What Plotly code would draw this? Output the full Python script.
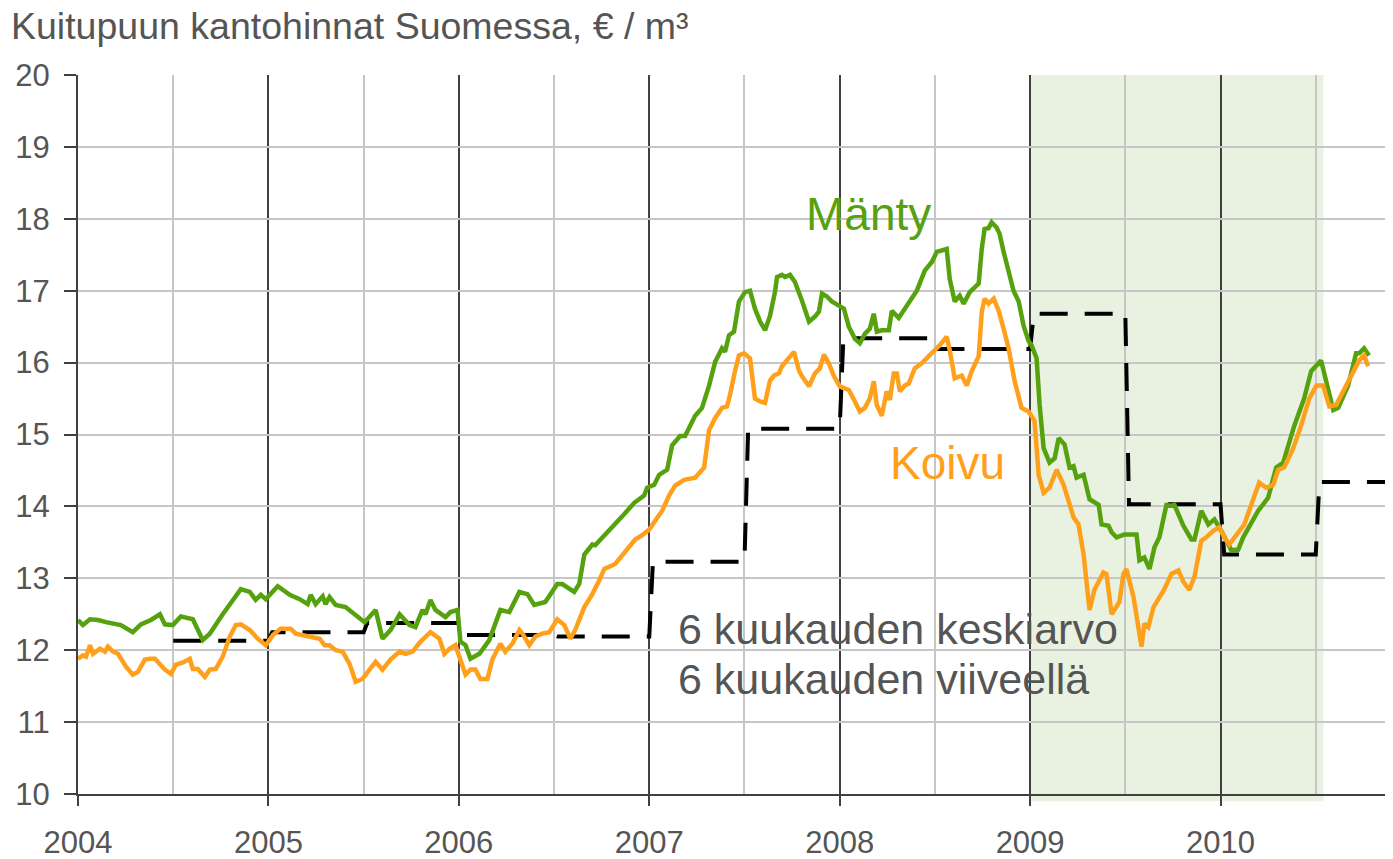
import plotly.graph_objects as go

# ---------------- data ----------------
years = [2004, 2005, 2006, 2007, 2008, 2009, 2010]
year_labels = [str(y) for y in years]

manty_x = [2004.000, 2004.026, 2004.063, 2004.105, 2004.147, 2004.225, 2004.288, 2004.330, 2004.383, 2004.430,
           2004.456, 2004.498, 2004.540, 2004.603, 2004.655, 2004.692, 2004.760, 2004.813, 2004.855, 2004.902,
           2004.933, 2004.960, 2004.986, 2005.049, 2005.112, 2005.164, 2005.206, 2005.222, 2005.248, 2005.285,
           2005.300, 2005.321, 2005.353, 2005.405, 2005.458, 2005.505, 2005.563, 2005.599, 2005.641, 2005.689,
           2005.741, 2005.772, 2005.809, 2005.825, 2005.851, 2005.877, 2005.930, 2005.956, 2005.993, 2006.008,
           2006.035, 2006.061, 2006.108, 2006.160, 2006.218, 2006.265, 2006.318, 2006.360, 2006.396, 2006.454,
           2006.517, 2006.543, 2006.606, 2006.632, 2006.659, 2006.701, 2006.716, 2006.769, 2006.816, 2006.868,
           2006.921, 2006.973, 2006.989, 2007.026, 2007.052, 2007.094, 2007.120, 2007.162, 2007.188, 2007.241,
           2007.277, 2007.314, 2007.346, 2007.382, 2007.398, 2007.419, 2007.445, 2007.471, 2007.503, 2007.529,
           2007.555, 2007.582, 2007.608, 2007.634, 2007.660, 2007.671, 2007.697, 2007.713, 2007.739, 2007.765,
           2007.802, 2007.839, 2007.870, 2007.891, 2007.907, 2007.933, 2007.959, 2007.996, 2008.022, 2008.048,
           2008.080, 2008.106, 2008.132, 2008.158, 2008.179, 2008.195, 2008.221, 2008.258, 2008.274, 2008.310,
           2008.352, 2008.389, 2008.405, 2008.447, 2008.484, 2008.510, 2008.525, 2008.562, 2008.578, 2008.604,
           2008.630, 2008.651, 2008.683, 2008.730, 2008.746, 2008.761, 2008.782, 2008.798, 2008.824, 2008.840,
           2008.861, 2008.887, 2008.913, 2008.940, 2008.966, 2008.992, 2009.008, 2009.034, 2009.050, 2009.071,
           2009.102, 2009.129, 2009.150, 2009.181, 2009.207, 2009.228, 2009.244, 2009.281, 2009.312, 2009.360,
           2009.375, 2009.412, 2009.428, 2009.454, 2009.495, 2009.559, 2009.574, 2009.600, 2009.627, 2009.653,
           2009.679, 2009.716, 2009.742, 2009.758, 2009.805, 2009.847, 2009.863, 2009.899, 2009.936, 2009.968,
           2010.004, 2010.057, 2010.093, 2010.119, 2010.151, 2010.198, 2010.250, 2010.292, 2010.329, 2010.387,
           2010.439, 2010.476, 2010.528, 2010.554, 2010.592, 2010.618, 2010.670, 2010.712, 2010.728, 2010.754,
           2010.780]
manty_y = [12.42, 12.35, 12.43, 12.42, 12.39, 12.35, 12.25, 12.36, 12.42, 12.50,
           12.36, 12.35, 12.47, 12.43, 12.14, 12.23, 12.50, 12.70, 12.85, 12.81,
           12.70, 12.77, 12.71, 12.89, 12.77, 12.71, 12.64, 12.77, 12.64, 12.75,
           12.64, 12.74, 12.63, 12.60, 12.49, 12.39, 12.56, 12.16, 12.28, 12.50,
           12.35, 12.32, 12.56, 12.50, 12.70, 12.56, 12.46, 12.53, 12.56, 12.12,
           12.07, 11.88, 11.95, 12.14, 12.56, 12.53, 12.81, 12.78, 12.63, 12.67,
           12.92, 12.92, 12.81, 12.92, 13.33, 13.47, 13.46, 13.61, 13.73, 13.89,
           14.05, 14.15, 14.26, 14.30, 14.44, 14.51, 14.85, 14.98, 14.98, 15.26,
           15.37, 15.68, 16.01, 16.20, 16.15, 16.38, 16.43, 16.85, 16.98, 17.00,
           16.75, 16.57, 16.45, 16.65, 16.98, 17.19, 17.22, 17.19, 17.22, 17.12,
           16.86, 16.57, 16.64, 16.71, 16.96, 16.92, 16.85, 16.79, 16.75, 16.50,
           16.33, 16.27, 16.40, 16.47, 16.68, 16.43, 16.45, 16.45, 16.72, 16.62,
           16.78, 16.93, 17.00, 17.28, 17.40, 17.54, 17.55, 17.58, 17.16, 16.85,
           16.93, 16.82, 16.98, 17.10, 17.58, 17.86, 17.87, 17.95, 17.88, 17.79,
           17.54, 17.26, 17.00, 16.85, 16.51, 16.30, 16.24, 16.06, 15.41, 14.81,
           14.61, 14.67, 14.95, 14.86, 14.54, 14.56, 14.40, 14.44, 14.10, 14.02,
           13.75, 13.73, 13.64, 13.57, 13.61, 13.61, 13.25, 13.29, 13.13, 13.43,
           13.57, 14.02, 14.01, 14.02, 13.73, 13.54, 13.54, 13.94, 13.75, 13.82,
           13.66, 13.39, 13.40, 13.57, 13.71, 13.94, 14.12, 14.54, 14.61, 15.12,
           15.50, 15.88, 16.03, 15.74, 15.34, 15.37, 15.68, 16.13, 16.13, 16.20,
           16.10]

koivu_x = [2004.000, 2004.026, 2004.042, 2004.063, 2004.079, 2004.115, 2004.142, 2004.157, 2004.184, 2004.210,
           2004.252, 2004.288, 2004.315, 2004.351, 2004.378, 2004.404, 2004.456, 2004.488, 2004.514, 2004.551,
           2004.587, 2004.603, 2004.629, 2004.666, 2004.692, 2004.724, 2004.760, 2004.797, 2004.829, 2004.855,
           2004.902, 2004.944, 2004.986, 2005.023, 2005.064, 2005.117, 2005.143, 2005.180, 2005.222, 2005.269,
           2005.295, 2005.321, 2005.353, 2005.390, 2005.426, 2005.458, 2005.494, 2005.531, 2005.563, 2005.599,
           2005.641, 2005.689, 2005.720, 2005.757, 2005.799, 2005.851, 2005.898, 2005.924, 2005.951, 2005.982,
           2006.008, 2006.035, 2006.061, 2006.087, 2006.113, 2006.150, 2006.176, 2006.218, 2006.244, 2006.281,
           2006.318, 2006.334, 2006.370, 2006.402, 2006.438, 2006.475, 2006.517, 2006.554, 2006.585, 2006.611,
           2006.659, 2006.701, 2006.737, 2006.764, 2006.821, 2006.858, 2006.895, 2006.926, 2006.963, 2007.000,
           2007.031, 2007.068, 2007.104, 2007.136, 2007.183, 2007.241, 2007.288, 2007.314, 2007.346, 2007.382,
           2007.408, 2007.424, 2007.450, 2007.471, 2007.498, 2007.529, 2007.555, 2007.582, 2007.608, 2007.634,
           2007.655, 2007.681, 2007.697, 2007.734, 2007.760, 2007.786, 2007.802, 2007.839, 2007.870, 2007.896,
           2007.917, 2007.943, 2007.970, 2008.001, 2008.048, 2008.080, 2008.106, 2008.132, 2008.158, 2008.179,
           2008.195, 2008.221, 2008.247, 2008.263, 2008.284, 2008.300, 2008.316, 2008.342, 2008.363, 2008.394,
           2008.431, 2008.468, 2008.499, 2008.525, 2008.562, 2008.578, 2008.604, 2008.641, 2008.667, 2008.693,
           2008.730, 2008.746, 2008.761, 2008.782, 2008.809, 2008.835, 2008.861, 2008.887, 2008.919, 2008.955,
           2008.992, 2009.023, 2009.045, 2009.071, 2009.102, 2009.139, 2009.176, 2009.202, 2009.228, 2009.254,
           2009.281, 2009.312, 2009.338, 2009.385, 2009.401, 2009.428, 2009.454, 2009.469, 2009.490, 2009.506,
           2009.543, 2009.569, 2009.585, 2009.600, 2009.621, 2009.648, 2009.679, 2009.705, 2009.742, 2009.779,
           2009.805, 2009.836, 2009.863, 2009.899, 2009.925, 2009.962, 2009.994, 2010.020, 2010.046, 2010.093,
           2010.125, 2010.161, 2010.203, 2010.240, 2010.277, 2010.303, 2010.334, 2010.382, 2010.424, 2010.466,
           2010.503, 2010.539, 2010.571, 2010.607, 2010.660, 2010.712, 2010.728, 2010.754, 2010.775]
koivu_y = [11.88, 11.93, 11.91, 12.07, 11.95, 12.02, 11.98, 12.05, 11.98, 11.95,
           11.77, 11.66, 11.70, 11.87, 11.88, 11.88, 11.73, 11.67, 11.80, 11.83,
           11.88, 11.74, 11.74, 11.63, 11.73, 11.74, 11.91, 12.19, 12.35, 12.36,
           12.28, 12.16, 12.07, 12.21, 12.30, 12.30, 12.23, 12.21, 12.19, 12.16,
           12.07, 12.07, 12.00, 11.98, 11.81, 11.56, 11.60, 11.73, 11.84, 11.73,
           11.87, 11.98, 11.95, 11.98, 12.12, 12.25, 12.16, 11.95, 12.02, 12.07,
           11.87, 11.66, 11.73, 11.73, 11.60, 11.60, 11.87, 12.09, 11.98, 12.09,
           12.28, 12.23, 12.07, 12.19, 12.23, 12.25, 12.43, 12.35, 12.16, 12.28,
           12.60, 12.78, 12.97, 13.13, 13.20, 13.32, 13.43, 13.54, 13.60, 13.68,
           13.80, 13.94, 14.15, 14.29, 14.37, 14.40, 14.54, 15.06, 15.23, 15.37,
           15.39, 15.55, 15.88, 16.10, 16.13, 16.06, 15.50, 15.46, 15.44, 15.75,
           15.82, 15.85, 15.95, 16.06, 16.15, 15.89, 15.81, 15.67, 15.85, 15.92,
           16.11, 15.99, 15.81, 15.67, 15.62, 15.46, 15.32, 15.37, 15.50, 15.74,
           15.41, 15.26, 15.60, 15.48, 15.85, 15.85, 15.60, 15.68, 15.71, 15.92,
           15.99, 16.09, 16.17, 16.24, 16.36, 16.17, 15.78, 15.82, 15.68, 15.88,
           16.09, 16.70, 16.89, 16.82, 16.89, 16.72, 16.47, 16.20, 15.74, 15.37,
           15.32, 15.19, 14.44, 14.19, 14.26, 14.51, 14.30, 14.08, 13.85, 13.75,
           13.33, 12.56, 12.84, 13.08, 13.06, 12.50, 12.60, 12.67, 13.06, 13.13,
           12.74, 12.32, 12.05, 12.37, 12.32, 12.60, 12.74, 12.85, 13.06, 13.11,
           12.95, 12.84, 13.02, 13.52, 13.57, 13.66, 13.71, 13.57, 13.47, 13.64,
           13.75, 14.02, 14.33, 14.26, 14.30, 14.51, 14.54, 14.81, 15.13, 15.50,
           15.68, 15.68, 15.39, 15.41, 15.68, 15.95, 16.03, 16.10, 15.95]

# 6-month average with 6-month lag (half-year periods)
avg_start = [2004.5, 2005.0, 2005.5, 2006.0, 2006.5, 2007.0, 2007.5,
             2008.0, 2008.5, 2009.0, 2009.5, 2010.0, 2010.5]
avg_value = [12.13, 12.25, 12.38, 12.21, 12.19, 13.23, 15.08,
             16.34, 16.19, 16.68, 14.03, 13.33, 14.34]
avg_last_end = 2010.95

recession_start = 2009.0
recession_end = 2010.54

# ---------------- build step line ----------------
week = 1.0 / 52
step_x, step_y = [], []
for i, (s, v) in enumerate(zip(avg_start, avg_value)):
    e = avg_start[i + 1] if i + 1 < len(avg_start) else avg_last_end
    step_x += [s + (week if i > 0 else 0), e]
    step_y += [v, v]

GREEN = "#55A10E"
ORANGE = "#FFA01C"
TXT = "#555555"
DARK = "#404040"
LIGHT = "#c6c6c6"
FONT = "Liberation Sans, Arial, sans-serif"

fig = go.Figure()
fig.add_trace(go.Scatter(x=step_x, y=step_y, mode="lines",
                         line=dict(color="black", width=4, dash="28px,17px"),
                         name="6 kk keskiarvo", hoverinfo="skip"))
fig.add_trace(go.Scatter(x=manty_x, y=manty_y, mode="lines",
                         line=dict(color=GREEN, width=4.5), name="Mänty"))
fig.add_trace(go.Scatter(x=koivu_x, y=koivu_y, mode="lines",
                         line=dict(color=ORANGE, width=4.5), name="Koivu"))

fig.add_shape(type="rect", xref="x", yref="paper",
              x0=recession_start, x1=recession_end, y0=-0.01, y1=1,
              fillcolor="#e9f2e0", line=dict(width=0), layer="below")

fig.add_annotation(x=2008.15, y=18.06, text="Mänty", showarrow=False,
                   font=dict(family=FONT, size=46, color=GREEN))
fig.add_annotation(x=2008.567, y=14.61, text="Koivu", showarrow=False,
                   font=dict(family=FONT, size=46, color=ORANGE))
fig.add_annotation(x=2007.14, y=12.30, text="6 kuukauden keskiarvo", showarrow=False,
                   xanchor="left", font=dict(family=FONT, size=43, color=TXT))
fig.add_annotation(x=2007.14, y=11.60, text="6 kuukauden viiveellä", showarrow=False,
                   xanchor="left", font=dict(family=FONT, size=43, color=TXT))

fig.update_layout(
    width=1393, height=859,
    margin=dict(l=64, r=7, t=67, b=67),
    paper_bgcolor="white", plot_bgcolor="white",
    showlegend=False,
    font=dict(family=FONT, color=TXT),
    title=dict(text="Kuitupuun kantohinnat Suomessa, € / m³",
               x=3 / 1393, xanchor="left", xref="container",
               y=1 - 18 / 859, yanchor="middle", yref="container",
               font=dict(family=FONT, size=37.5, color=TXT)),
    xaxis=dict(range=[2004, 2010.911], tickvals=years, ticktext=year_labels,
               showgrid=True, gridcolor=DARK, gridwidth=1.5,
               minor=dict(dtick=0.5, tick0=2004, showgrid=True, gridcolor=LIGHT,
                          gridwidth=2, ticks=""),
               ticks="outside", ticklen=10, tickwidth=1.5, tickcolor=DARK,
               ticklabelstandoff=10,
               showline=True, linecolor=DARK, linewidth=2, zeroline=False,
               tickfont=dict(family=FONT, size=31, color=TXT)),
    yaxis=dict(range=[10, 20], dtick=1, tick0=10,
               showgrid=True, gridcolor=LIGHT, gridwidth=2,
               ticks="outside", ticklen=12, tickwidth=1.5, tickcolor=DARK,
               ticklabelstandoff=8,
               showline=True, linecolor=DARK, linewidth=2, zeroline=False,
               tickfont=dict(family=FONT, size=31, color=TXT)),
)

fig.write_html("out.html")
